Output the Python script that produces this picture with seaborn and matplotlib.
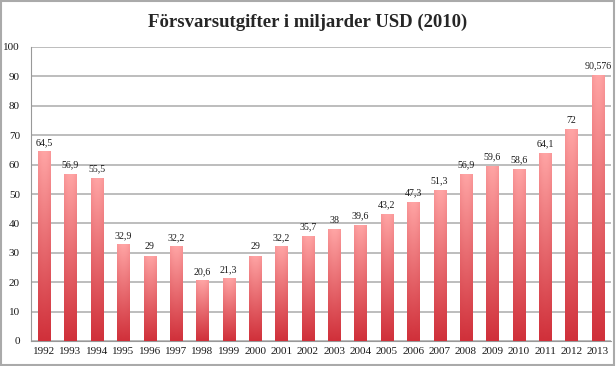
import numpy as np
import pandas as pd
import matplotlib
matplotlib.use("Agg")
import matplotlib.pyplot as plt
import seaborn as sns
from matplotlib.colors import LinearSegmentedColormap
from matplotlib.patches import Rectangle

# --- Data ---
years = [str(y) for y in range(1992, 2014)]
values = [64.5, 56.9, 55.5, 32.9, 29, 32.2, 20.6, 21.3, 29, 32.2, 35.7,
          38, 39.6, 43.2, 47.3, 51.3, 56.9, 59.6, 58.6, 64.1, 72, 90.576]
labels = ["64,5", "56,9", "55,5", "32,9", "29", "32,2", "20,6", "21,3", "29",
          "32,2", "35,7", "38", "39,6", "43,2", "47,3", "51,3", "56,9", "59,6",
          "58,6", "64,1", "72", "90,576"]

df = pd.DataFrame({"year": years, "value": values})

sns.set_style("white")
plt.rcParams["font.family"] = ["Liberation Serif", "DejaVu Serif"]

fig = plt.figure(figsize=(6.16, 3.66), dpi=100)
ax = fig.add_axes([31 / 616, 1 - 341 / 366, 580 / 616, 294 / 366])

sns.barplot(data=df, x="year", y="value", color="#e05060", width=0.46, ax=ax, zorder=3)

# gradient fill: light pink at top, red at bottom, slightly darker at the sides
cmap = LinearSegmentedColormap.from_list("bar", ["#d0303a", "#ffa5a5"])
vert = np.linspace(0, 1, 256).reshape(-1, 1)
horiz = 1 - 0.12 * np.abs(np.linspace(-1, 1, 32)) ** 2
grad = vert * horiz[None, :]
for p in ax.patches:
    x0, w, h = p.get_x(), p.get_width(), p.get_height()
    p.set_facecolor("none")
    p.set_edgecolor("none")
    im = ax.imshow(grad, cmap=cmap, aspect="auto", origin="lower", vmin=0, vmax=1,
                   extent=[x0, x0 + w, 0, h], zorder=3, interpolation="bilinear")
    im.set_clip_path(p)

ax.set_xlim(-0.5, len(years) - 0.5)
ax.set_ylim(0, 100)
ax.yaxis.grid(True, color="#bdbdbd", linewidth=1.4, zorder=0)
ax.set_axisbelow(True)

for i, (v, lab) in enumerate(zip(values, labels)):
    ax.text(i, v + 1.5, lab, ha="center", va="bottom", fontsize=7.2, color="#1a1a1a")

ax.set_xlabel("")
ax.set_ylabel("")
ax.set_xticks(range(len(years)))
ax.set_xticklabels(years)
ax.set_xticks(np.arange(-0.5, len(years), 1), minor=True)
ax.set_yticks(range(0, 101, 10))
ax.tick_params(axis="both", labelsize=8, colors="#1a1a1a", pad=4)
ax.tick_params(axis="x", which="major", length=0)
ax.tick_params(axis="x", which="minor", length=4, color="#999999", direction="out")
ax.tick_params(axis="y", length=4, color="#999999", direction="out")

for s in ["top", "right"]:
    ax.spines[s].set_visible(False)
ax.spines["left"].set_color("#999999")
ax.spines["bottom"].set_color("#999999")

fig.text(0.5, 1 - 22 / 366, "Försvarsutgifter i miljarder USD (2010)", ha="center", va="center",
         fontsize=13.5, fontweight="bold")

fig.add_artist(Rectangle((0.002, 0.003), 0.994, 0.994, transform=fig.transFigure,
                         fill=False, edgecolor="#aaaaaa", linewidth=1.5))

fig.savefig("out.png", dpi=100)
